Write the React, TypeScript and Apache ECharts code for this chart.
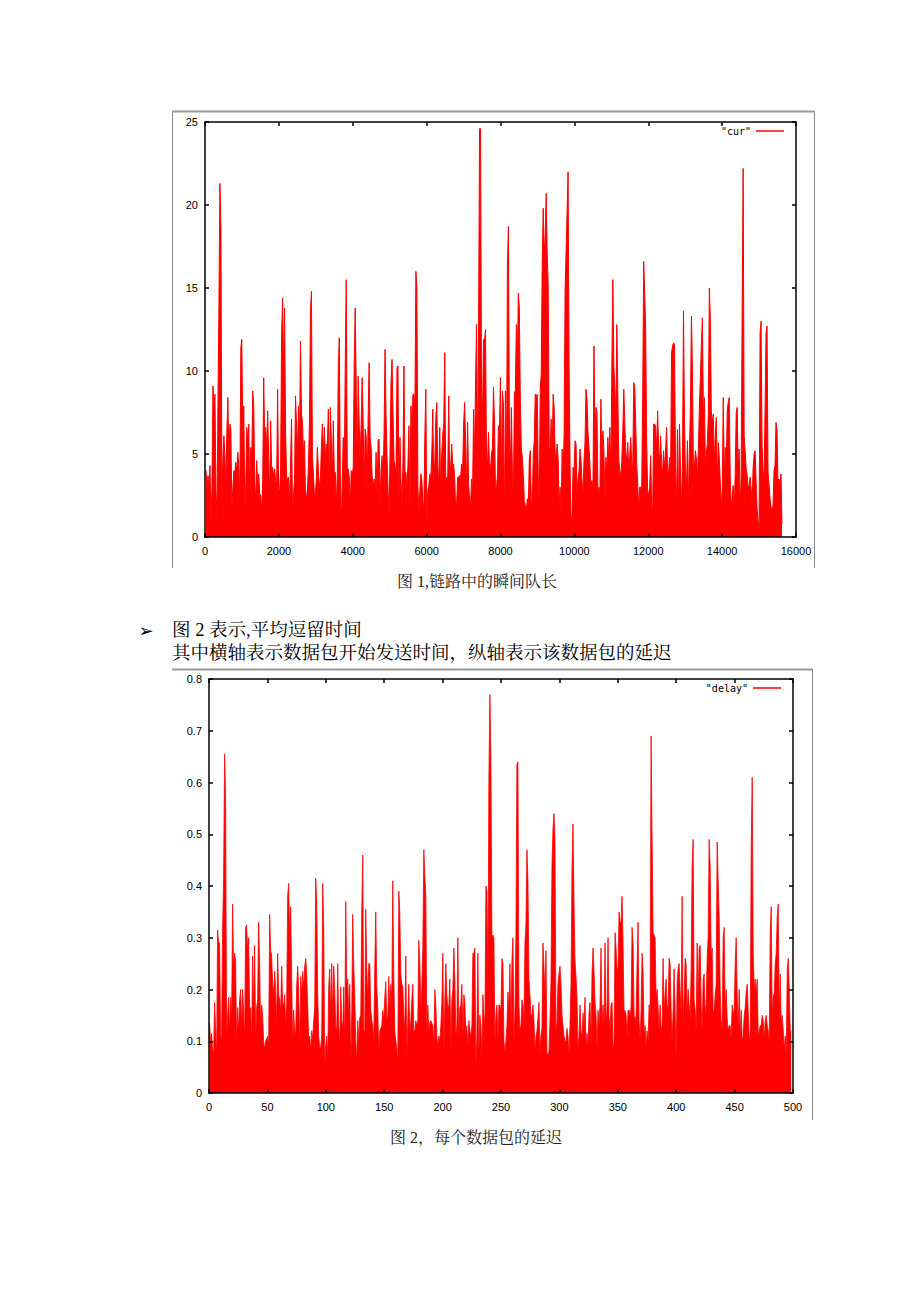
import React, { useEffect, useRef } from "react";
import * as echarts from "echarts";

// ---- Figure 1: instantaneous queue length ("cur"), sampled evenly over time curStartTime..curEndTime
const curValues = [
  4.0, 2.9, 3.7, 3.0, 4.3, 0.9, 3.0, 9.1, 7.7, 8.6, 3.0, 1.0, 7.9, 14.0, 21.3, 18.6, 2.4, 4.8, 6.1, 4.9,
  3.2, 6.4, 8.4, 4.6, 6.8, 6.5, 1.6, 3.0, 4.0, 3.9, 4.5, 4.0, 5.1, 4.3, 2.3, 11.4, 11.9, 5.9, 7.9, 1.7,
  3.2, 6.6, 5.8, 6.8, 2.4, 5.4, 4.7, 8.8, 7.9, 3.4, 2.1, 4.6, 2.9, 3.8, 2.6, 2.5, 1.6, 3.3, 9.6, 6.0,
  6.6, 5.2, 7.6, 4.8, 2.4, 7.0, 4.2, 4.2, 3.6, 4.1, 3.4, 3.0, 8.9, 2.9, 2.8, 4.1, 12.2, 14.4, 9.8, 13.8,
  6.3, 3.7, 3.4, 3.6, 1.9, 4.5, 7.1, 1.2, 2.6, 3.4, 8.5, 6.8, 5.1, 7.9, 5.5, 11.8, 7.4, 6.9, 4.9, 5.8,
  2.5, 2.4, 2.9, 4.3, 6.9, 13.6, 14.8, 4.8, 3.8, 2.5, 2.6, 3.6, 5.4, 4.0, 3.1, 3.4, 5.4, 6.8, 4.8, 6.6,
  4.7, 5.6, 5.5, 7.7, 2.7, 7.8, 5.8, 3.2, 7.0, 3.8, 3.9, 1.9, 3.8, 10.2, 12.0, 3.8, 0.5, 3.5, 6.0, 3.6,
  10.6, 15.5, 4.2, 4.1, 3.6, 1.8, 4.0, 3.7, 4.2, 10.4, 13.8, 9.1, 3.5, 9.7, 6.8, 4.8, 6.9, 9.6, 7.0, 2.9,
  6.5, 6.1, 2.7, 7.3, 10.5, 6.0, 5.4, 3.7, 2.9, 3.5, 2.9, 5.1, 2.3, 5.8, 5.9, 1.8, 4.1, 4.9, 3.3, 6.3,
  11.3, 7.3, 4.8, 2.9, 1.4, 5.0, 9.3, 10.7, 7.5, 4.6, 4.3, 3.6, 10.2, 10.3, 2.0, 6.0, 3.4, 1.8, 4.5, 10.3,
  3.8, 3.9, 2.9, 4.3, 6.7, 1.5, 7.9, 6.4, 8.6, 8.6, 7.8, 16.0, 15.0, 3.1, 1.5, 2.8, 3.8, 3.4, 2.1, 1.8,
  6.1, 8.9, 0.8, 2.8, 3.1, 3.8, 3.5, 5.0, 7.7, 3.2, 4.5, 7.1, 8.1, 4.3, 3.0, 6.6, 2.5, 5.0, 6.2, 6.8,
  11.1, 3.2, 3.6, 3.5, 8.5, 3.6, 4.3, 5.6, 4.3, 4.4, 3.5, 1.7, 2.1, 3.6, 3.6, 3.7, 3.6, 4.4, 4.0, 6.8,
  8.1, 5.8, 2.8, 6.9, 3.2, 2.3, 1.9, 3.5, 2.7, 7.7, 4.9, 9.5, 12.8, 3.8, 12.7, 24.6, 24.6, 8.7, 7.5, 11.9,
  11.8, 12.5, 4.7, 4.4, 6.3, 4.1,
  4.1, 5.0, 5.4, 9.0, 7.0, 2.8, 2.9, 3.8, 6.7, 6.4, 9.6, 3.5, 8.8, 8.0, 0.8, 8.8, 2.8, 16.3, 18.7, 6.5,
  4.0, 7.8, 4.0, 2.1, 8.7, 8.8, 12.8, 10.3, 14.7, 13.8, 8.2, 5.3, 4.8, 3.7, 2.2, 1.9, 1.6, 2.3, 1.7, 4.7,
  5.2, 2.2, 1.8, 5.0, 5.8, 8.6, 8.4, 8.6, 3.7, 2.1, 8.9, 9.8, 16.5, 19.8, 17.0, 18.2, 20.7, 17.0, 15.2, 5.4,
  5.2, 7.1, 5.0, 8.6, 7.8, 5.0, 4.8, 5.6, 4.7, 1.9, 3.0, 1.3, 5.3, 3.6, 6.2, 14.8, 17.3, 19.6, 22.0, 10.1,
  4.3, 0.6, 1.5, 4.2, 3.6, 5.8, 5.6, 2.6, 3.5, 4.0, 5.3, 4.6, 3.3, 2.7, 4.6, 5.7, 8.9, 8.3, 6.3, 5.4,
  4.3, 3.0, 3.4, 2.7, 11.5, 6.0, 7.8, 7.6, 2.7, 3.0, 2.7, 8.3, 4.6, 6.4, 5.3, 2.1, 4.8, 3.9, 6.0, 4.5,
  6.6, 3.7, 10.3, 15.5, 10.3, 8.9, 7.3, 12.8, 8.6, 4.6, 4.0, 3.6, 4.6, 6.4, 8.9, 6.9, 5.2, 4.4, 5.7, 3.9,
  4.9, 6.0, 4.4, 4.1, 9.3, 9.0, 6.8, 4.4, 3.2, 1.6, 3.0, 3.0, 2.7, 8.5, 16.6, 14.7, 12.5, 5.7, 2.7, 2.6,
  3.0, 4.9, 2.0, 1.5, 6.8, 6.8, 6.7, 5.1, 7.6, 5.4, 4.4, 6.1, 4.5, 3.7, 5.2, 4.1, 5.1, 6.6, 4.0, 3.8,
  4.8, 3.4, 11.1, 11.5, 11.7, 11.6, 4.3, 1.8, 6.5, 1.6, 6.8, 4.2, 1.7, 4.4, 13.6, 7.2, 3.7, 2.9, 5.8, 1.8,
  5.3, 7.8, 13.3, 10.1, 4.0, 4.2, 5.2, 4.7, 3.6, 5.3, 7.9, 9.6, 11.6, 13.2, 7.4, 8.4, 4.5, 5.0, 5.6, 7.4,
  15.0, 13.2, 7.6, 6.8, 7.4, 4.4, 6.2, 7.2, 3.1, 5.7, 4.8, 3.3, 1.7, 2.9, 8.4, 3.5, 5.4, 4.0, 7.6, 8.1,
  8.4, 3.6, 1.7, 2.4, 3.1, 1.6, 3.8, 7.5, 7.8, 3.8, 5.3, 1.6, 3.7, 13.9, 22.2, 6.1, 5.2, 4.1, 3.7, 3.0,
  3.1, 3.6, 2.9, 1.9, 4.2, 5.0, 5.2, 3.4, 1.7, 1.0, 0.4, 12.3, 13.0, 5.5, 4.0, 3.5, 7.6, 12.3, 12.7, 3.9,
  3.1, 2.3, 1.8, 1.6, 1.9, 4.0, 4.3, 6.9, 6.5, 3.2, 3.5, 3.1, 3.8, 0.8,
];
const curStartTime = 27;
const curEndTime = 15620;

// ---- Figure 2: per-packet delay ("delay"), sampled evenly over packets delayStartIndex..delayEndIndex
const delayValues = [
  0.135, 0.10, 0.115, 0.085, 0.075, 0.175, 0.125, 0.075, 0.315, 0.29, 0.29, 0.115, 0.10, 0.315, 0.415, 0.655, 0.57, 0.11, 0.15, 0.185,
  0.12, 0.185, 0.14, 0.365, 0.24, 0.27, 0.255, 0.09, 0.165, 0.12, 0.18, 0.20, 0.125, 0.20, 0.16, 0.10, 0.32, 0.325, 0.27, 0.30,
  0.16, 0.165, 0.10, 0.265, 0.155, 0.285, 0.105, 0.165, 0.18, 0.33, 0.25, 0.12, 0.17, 0.15, 0.10, 0.085, 0.10, 0.105, 0.11, 0.09,
  0.345, 0.275, 0.265, 0.21, 0.19, 0.235, 0.195, 0.13, 0.27, 0.19, 0.18, 0.155, 0.245, 0.17, 0.17, 0.19, 0.13, 0.17, 0.38, 0.405,
  0.29, 0.36, 0.225, 0.09, 0.16, 0.115, 0.12, 0.205, 0.245, 0.20, 0.08, 0.225, 0.19, 0.235, 0.20, 0.245, 0.26, 0.23, 0.17, 0.105,
  0.11, 0.08, 0.12, 0.105, 0.14, 0.165, 0.415, 0.37, 0.19, 0.11, 0.085, 0.09, 0.11, 0.405, 0.32, 0.05, 0.09, 0.11, 0.065, 0.205,
  0.24, 0.145, 0.25, 0.14, 0.245, 0.20, 0.13, 0.12, 0.25, 0.13, 0.09, 0.205, 0.14, 0.12, 0.205, 0.085, 0.37, 0.21, 0.22, 0.155,
  0.21, 0.05, 0.155, 0.345, 0.245, 0.19, 0.10, 0.06, 0.14, 0.10, 0.145, 0.15, 0.35, 0.46, 0.12, 0.12, 0.355, 0.24, 0.185, 0.25,
  0.25, 0.16, 0.14, 0.13, 0.10, 0.24, 0.35, 0.205, 0.165, 0.075, 0.12, 0.125, 0.13, 0.16, 0.14, 0.185, 0.215, 0.14, 0.15, 0.225,
  0.16, 0.21, 0.175, 0.41, 0.225, 0.12, 0.10, 0.085, 0.06, 0.39, 0.35, 0.23, 0.21, 0.205, 0.15, 0.12, 0.265, 0.07, 0.14, 0.21,
  0.11, 0.14, 0.18, 0.21, 0.12, 0.12, 0.14, 0.13, 0.14, 0.295, 0.25, 0.165, 0.205, 0.28, 0.47, 0.42, 0.38, 0.11, 0.17, 0.12,
  0.135, 0.14, 0.135, 0.13, 0.09, 0.20, 0.17, 0.11, 0.09, 0.11, 0.10, 0.13, 0.175, 0.27, 0.075, 0.18, 0.25, 0.19, 0.16, 0.17,
  0.22, 0.085, 0.18, 0.20, 0.28, 0.22, 0.11, 0.13, 0.30, 0.11, 0.165, 0.17, 0.21, 0.11, 0.19, 0.175, 0.11, 0.13, 0.09, 0.14,
  0.12, 0.11, 0.13, 0.27, 0.27, 0.28, 0.05, 0.11, 0.27, 0.08, 0.15, 0.13, 0.07, 0.19, 0.15, 0.13, 0.40, 0.39, 0.19, 0.61,
  0.77, 0.65, 0.30, 0.305, 0.30, 0.095, 0.15, 0.17, 0.10, 0.17, 0.17, 0.15, 0.26, 0.25, 0.10, 0.08, 0.10, 0.13, 0.195, 0.155,
  0.25, 0.12, 0.255, 0.30, 0.10, 0.16, 0.31, 0.635, 0.64, 0.17, 0.12, 0.13, 0.18, 0.17, 0.13, 0.29, 0.325, 0.47, 0.41, 0.22,
  0.19, 0.15, 0.15, 0.17, 0.14, 0.08, 0.11, 0.12, 0.145, 0.175, 0.08, 0.11, 0.125, 0.29, 0.245, 0.185, 0.275, 0.075, 0.075, 0.08,
  0.14, 0.215, 0.44, 0.51, 0.54, 0.495, 0.12, 0.135, 0.21, 0.23, 0.245, 0.21, 0.15, 0.13, 0.11, 0.10, 0.10, 0.125, 0.11, 0.075,
  0.13, 0.21, 0.43, 0.52, 0.37, 0.255, 0.225, 0.185, 0.085, 0.11, 0.17, 0.12, 0.105, 0.155, 0.125, 0.185, 0.09, 0.115, 0.09, 0.155,
  0.175, 0.09, 0.23, 0.28, 0.235, 0.175, 0.15, 0.09, 0.16, 0.13, 0.17, 0.28, 0.13, 0.17, 0.13, 0.29, 0.13, 0.165, 0.30, 0.15,
  0.12, 0.17, 0.175, 0.08, 0.10, 0.31, 0.28, 0.24, 0.24, 0.35, 0.33, 0.33, 0.38, 0.29, 0.155, 0.16, 0.15, 0.11, 0.16, 0.16,
  0.15, 0.165, 0.32, 0.29, 0.15, 0.14, 0.15, 0.245, 0.33, 0.14, 0.10, 0.16, 0.27, 0.235, 0.11, 0.13, 0.09, 0.12, 0.10, 0.17,
  0.15, 0.69, 0.495, 0.31, 0.305, 0.30, 0.18, 0.20, 0.165, 0.12, 0.17, 0.12, 0.13, 0.26, 0.16, 0.19, 0.22, 0.17, 0.16, 0.26,
  0.25, 0.16, 0.10, 0.16, 0.24, 0.16, 0.065, 0.21, 0.24, 0.25, 0.20, 0.15, 0.38, 0.13, 0.19, 0.26, 0.25, 0.15, 0.20, 0.17,
  0.14, 0.24, 0.44, 0.49, 0.18, 0.16, 0.12, 0.29, 0.17, 0.28, 0.285, 0.17, 0.12, 0.22, 0.23, 0.15, 0.17, 0.26, 0.30, 0.49,
  0.44, 0.26, 0.28, 0.155, 0.16, 0.19, 0.21, 0.485, 0.41, 0.34, 0.20, 0.14, 0.12, 0.30, 0.32, 0.155, 0.20, 0.145, 0.12, 0.13,
  0.13, 0.105, 0.17, 0.15, 0.16, 0.25, 0.30, 0.19, 0.12, 0.20, 0.11, 0.16, 0.10, 0.11, 0.15, 0.165, 0.195, 0.21, 0.16, 0.11,
  0.10, 0.47, 0.61, 0.27, 0.20, 0.22, 0.19, 0.22, 0.11, 0.12, 0.13, 0.13, 0.15, 0.14, 0.105, 0.14, 0.15, 0.13, 0.12, 0.10,
  0.31, 0.36, 0.14, 0.19, 0.19, 0.25, 0.27, 0.34, 0.365, 0.14, 0.23, 0.13, 0.15, 0.12, 0.085, 0.11, 0.07, 0.24, 0.26, 0.20,
  0.12, 0.12,
];
const delayStartIndex = 0.5;
const delayEndIndex = 498.5;

// ---- Axis ranges / ticks
const curAxisMax = { x: 16000, xStep: 2000, y: 25, yStep: 5 };
const delayAxisMax = { x: 500, xStep: 50, y: 0.8, yStep: 0.1 };

// ---- Texts
const curLegend = '"cur"';
const delayLegend = '"delay"';
const caption1 = "图 1,链路中的瞬间队长";
const bulletMark = "➢";
const bodyLine1 = "图 2 表示,平均逗留时间";
const bodyLine2 = "其中横轴表示数据包开始发送时间，纵轴表示该数据包的延迟";
const caption2 = "图 2，每个数据包的延迟";

function toPairs(values: number[], start: number, end: number): number[][] {
  const step = (end - start) / (values.length - 1);
  return values.map((v, i) => [start + i * step, v]);
}

const PLOT_FONT = "'Liberation Sans', 'DejaVu Sans', sans-serif";
const DOC_FONT = "'Liberation Serif', 'Noto Serif CJK SC', 'Noto Sans CJK SC', serif";
const RED = "#ff0000";

function frameAxis(extra: any) {
  return {
    type: "value",
    axisLine: { show: true, onZero: false, lineStyle: { color: "#000", width: 1.5 } },
    axisTick: { show: true, inside: true, length: 4, lineStyle: { color: "#000", width: 1.5 } },
    splitLine: { show: false },
    z: 5,
    ...extra,
  };
}

export default function App() {
  const ref = useRef<HTMLDivElement>(null);

  useEffect(() => {
    if (!ref.current) return;
    const chart = echarts.init(ref.current, null, { renderer: "svg" });
    const labelStyle = { color: "#000", fontSize: 11, fontFamily: PLOT_FONT };
    const legendText = { color: "#000", fontSize: 10, fontFamily: "'DejaVu Sans Mono', 'Liberation Mono', monospace" };
    const plain = (v: number) => String(v);

    const option: any = {
      animation: false,
      backgroundColor: "#fff",
      grid: [
        { left: 205, top: 122, width: 591, height: 415 },
        { left: 209, top: 679, width: 584, height: 414 },
      ],
      xAxis: [
        frameAxis({
          gridIndex: 0, position: "bottom", min: 0, max: curAxisMax.x, interval: curAxisMax.xStep,
          axisLabel: { ...labelStyle, margin: 8, formatter: plain },
        }),
        frameAxis({
          gridIndex: 0, position: "top", min: 0, max: curAxisMax.x, interval: curAxisMax.xStep,
          axisLabel: { show: false },
        }),
        frameAxis({
          gridIndex: 1, position: "bottom", min: 0, max: delayAxisMax.x, interval: delayAxisMax.xStep,
          axisLabel: { ...labelStyle, margin: 8, formatter: plain },
        }),
        frameAxis({
          gridIndex: 1, position: "top", min: 0, max: delayAxisMax.x, interval: delayAxisMax.xStep,
          axisLabel: { show: false },
        }),
      ],
      yAxis: [
        frameAxis({
          gridIndex: 0, position: "left", min: 0, max: curAxisMax.y, interval: curAxisMax.yStep,
          axisLabel: { ...labelStyle, margin: 7, formatter: plain },
        }),
        frameAxis({
          gridIndex: 0, position: "right", min: 0, max: curAxisMax.y, interval: curAxisMax.yStep,
          axisLabel: { show: false },
        }),
        frameAxis({
          gridIndex: 1, position: "left", min: 0, max: delayAxisMax.y, interval: delayAxisMax.yStep,
          axisLabel: {
            ...labelStyle, margin: 7,
            formatter: (v: number) => (v === 0 ? "0" : v.toFixed(1)),
          },
        }),
        frameAxis({
          gridIndex: 1, position: "right", min: 0, max: delayAxisMax.y, interval: delayAxisMax.yStep,
          axisLabel: { show: false },
        }),
      ],
      legend: [
        {
          data: [curLegend], right: 136, top: 126, padding: 0, align: "right",
          icon: "rect", itemWidth: 28, itemHeight: 1.5, selectedMode: false,
          textStyle: legendText,
        },
        {
          data: [delayLegend], right: 139, top: 683, padding: 0, align: "right",
          icon: "rect", itemWidth: 28, itemHeight: 1.5, selectedMode: false,
          textStyle: legendText,
        },
      ],
      series: [
        {
          name: curLegend, type: "line", xAxisIndex: 0, yAxisIndex: 0,
          data: toPairs(curValues, curStartTime, curEndTime),
          symbol: "none", showSymbol: false,
          lineStyle: { color: RED, width: 1 },
          itemStyle: { color: RED },
          areaStyle: { color: RED, opacity: 1 },
        },
        {
          name: delayLegend, type: "line", xAxisIndex: 2, yAxisIndex: 2,
          data: toPairs(delayValues, delayStartIndex, delayEndIndex),
          symbol: "none", showSymbol: false,
          lineStyle: { color: RED, width: 0.8 },
          itemStyle: { color: RED },
          areaStyle: { color: RED, opacity: 1 },
        },
      ],
      graphic: [
        // picture frame of figure 1
        { type: "line", shape: { x1: 172, y1: 111.5, x2: 814, y2: 111.5 }, style: { stroke: "#9a9a9a", lineWidth: 2 } },
        { type: "line", shape: { x1: 172.5, y1: 111, x2: 172.5, y2: 568 }, style: { stroke: "#8a8a8a", lineWidth: 1 } },
        { type: "line", shape: { x1: 814.5, y1: 111, x2: 814.5, y2: 568 }, style: { stroke: "#8a8a8a", lineWidth: 1 } },
        // picture frame of figure 2
        { type: "line", shape: { x1: 172, y1: 669.5, x2: 812, y2: 669.5 }, style: { stroke: "#9a9a9a", lineWidth: 2 } },
        { type: "line", shape: { x1: 812.5, y1: 669, x2: 812.5, y2: 1120 }, style: { stroke: "#8a8a8a", lineWidth: 1 } },
        // document texts
        {
          type: "text", x: 477, y: 581,
          style: { text: caption1, fontSize: 16, fontFamily: DOC_FONT, fill: "#222", textAlign: "center", textVerticalAlign: "middle", align: "center", verticalAlign: "middle" },
        },
        {
          type: "text", x: 146, y: 630,
          style: { text: bulletMark, fontSize: 18, fontFamily: "'DejaVu Sans', sans-serif", fill: "#000", textAlign: "center", textVerticalAlign: "middle", align: "center", verticalAlign: "middle" },
        },
        {
          type: "text", x: 172, y: 630,
          style: { text: bodyLine1, fontSize: 18.5, fontFamily: DOC_FONT, fill: "#000", textAlign: "left", textVerticalAlign: "middle", align: "left", verticalAlign: "middle" },
        },
        {
          type: "text", x: 172, y: 653,
          style: { text: bodyLine2, fontSize: 18.5, fontFamily: DOC_FONT, fill: "#000", textAlign: "left", textVerticalAlign: "middle", align: "left", verticalAlign: "middle" },
        },
        {
          type: "text", x: 476, y: 1137,
          style: { text: caption2, fontSize: 16, fontFamily: DOC_FONT, fill: "#222", textAlign: "center", textVerticalAlign: "middle", align: "center", verticalAlign: "middle" },
        },
      ],
    };

    chart.setOption(option);
    return () => chart.dispose();
  }, []);

  return (
    <div
      ref={ref}
      style={{ position: "absolute", left: 0, top: 0, width: 920, height: 1302, background: "#fff" }}
    />
  );
}
